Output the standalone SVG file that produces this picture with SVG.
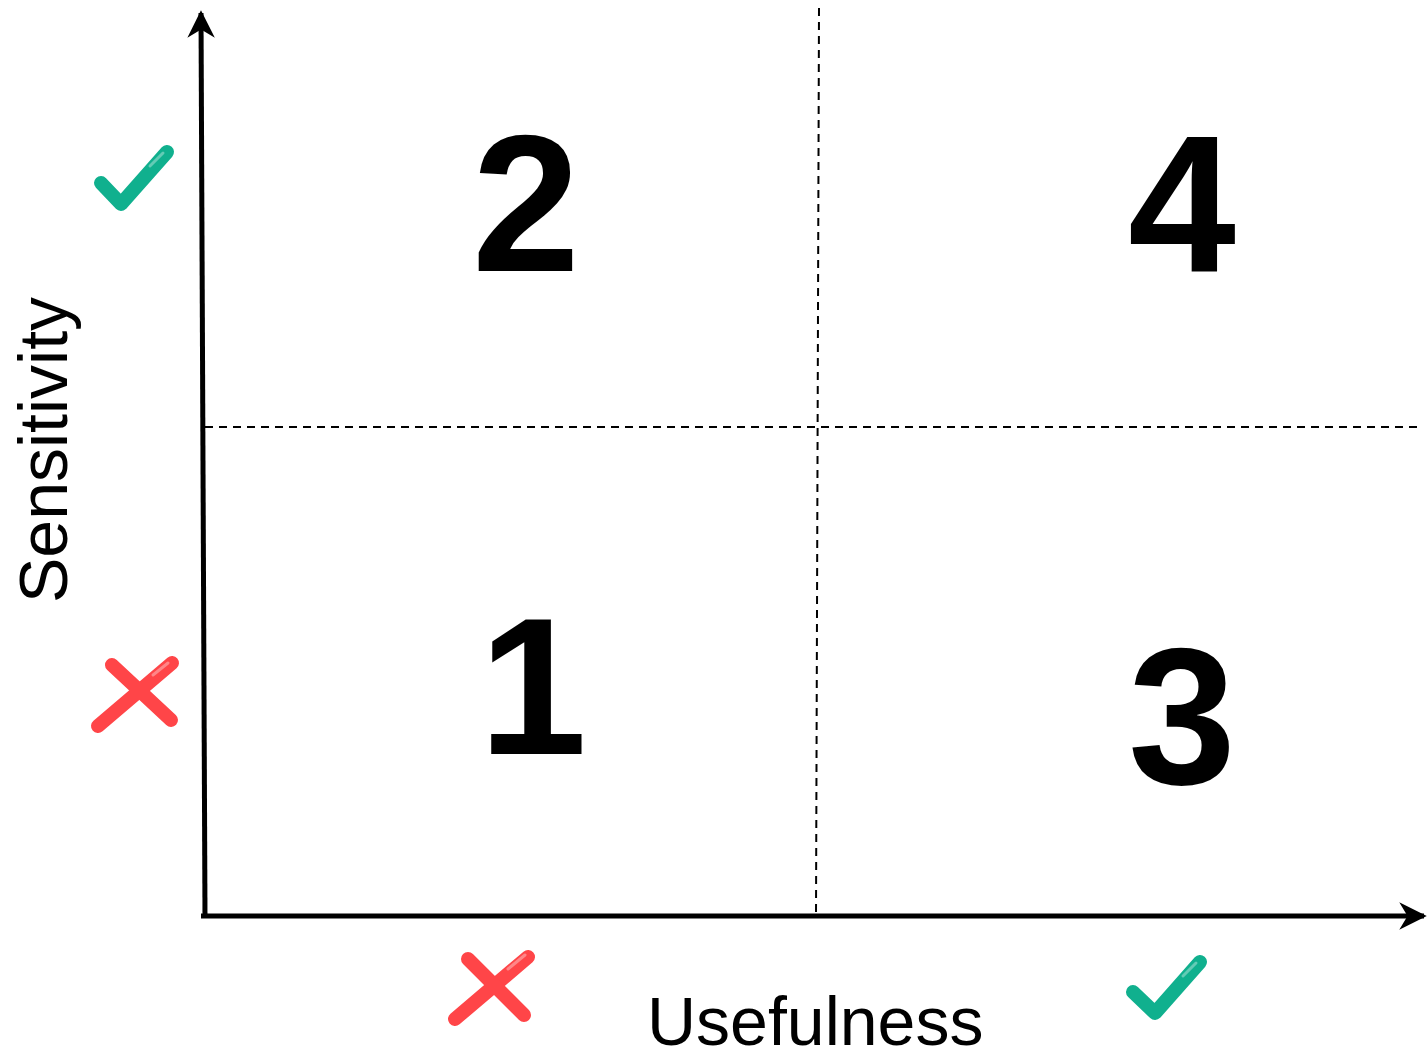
<svg xmlns="http://www.w3.org/2000/svg" width="1427" height="1060" viewBox="0 0 1427 1060">
<defs>
<style>
.axis{stroke:#000;stroke-width:5;fill:none}
.dash{stroke:#000;stroke-width:2;stroke-dasharray:8 6;fill:none}
.num{font-family:"Liberation Sans",Arial,sans-serif;font-weight:bold;font-size:194px;fill:#000;text-anchor:middle}
.lbl{font-family:"Liberation Sans",Arial,sans-serif;font-size:68px;fill:#000}
.ok{stroke:#10b08e;stroke-width:14;stroke-linecap:round;stroke-linejoin:round;fill:none}
.no{stroke:#ff4548;stroke-width:14;stroke-linecap:round;fill:none}
.hl{stroke:#ffffff;stroke-opacity:0.35;stroke-width:3;stroke-linecap:round;fill:none}
</style>
<marker id="ah" viewBox="0 0 10 10" refX="9" refY="5" markerWidth="5.5" markerHeight="5.5" orient="auto" markerUnits="strokeWidth">
<path d="M0,0 L10,5 L0,10 L3,5 Z" fill="#000"/>
</marker>
</defs>
<g id="connectors">
<line class="dash" x1="819" y1="8" x2="816" y2="916"/>
<line class="dash" x1="205" y1="427" x2="1422" y2="427"/>
<line class="axis" x1="205" y1="918" x2="201" y2="13" marker-end="url(#ah)"/>
<line class="axis" x1="201" y1="916" x2="1424" y2="916" marker-end="url(#ah)"/>
</g>
<g id="q2"><text class="num" x="526" y="271">2</text></g>
<g id="q4"><text class="num" x="1182" y="271">4</text></g>
<g id="q1"><text class="num" x="533" y="754">1</text></g>
<g id="q3"><text class="num" x="1182" y="784">3</text></g>
<g id="ylabel"><text class="lbl" transform="translate(67,603) rotate(-90)">Sensitivity</text></g>
<g id="xlabel"><text class="lbl" x="647" y="1045">Usefulness</text></g>
<g id="ycheck">
<polyline class="ok" points="101,183 121,204 167,152"/>
<line class="hl" x1="150" y1="166" x2="163" y2="153"/>
</g>
<g id="ycross">
<line class="no" x1="98" y1="726" x2="172" y2="663"/>
<line class="no" x1="112" y1="665" x2="171" y2="720"/>
<line class="hl" x1="153" y1="675" x2="168" y2="663"/>
</g>
<g id="xcross">
<line class="no" x1="455" y1="1019" x2="528" y2="957"/>
<line class="no" x1="468" y1="959" x2="524" y2="1015"/>
<line class="hl" x1="508" y1="969" x2="525" y2="955"/>
</g>
<g id="xcheck">
<polyline class="ok" points="1133,992 1155,1013 1200,962"/>
<line class="hl" x1="1183" y1="976" x2="1196" y2="963"/>
</g>
</svg>
